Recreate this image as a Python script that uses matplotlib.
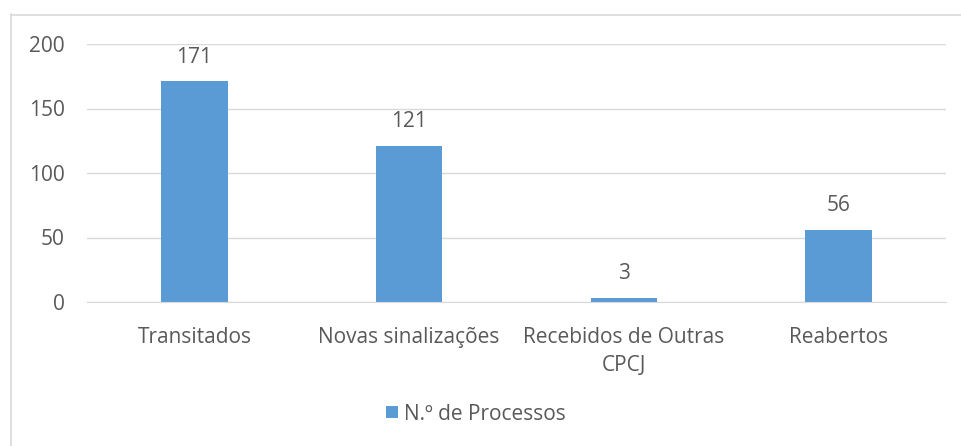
import matplotlib
matplotlib.use("Agg")
import matplotlib.pyplot as plt
from matplotlib.lines import Line2D
import numpy as np

categories = ["Transitados", "Novas sinalizações", "Recebidos de Outras\nCPCJ", "Reabertos"]
values = [171, 121, 3, 56]
series_name = "N.º de Processos"
yticks = [0, 50, 100, 150, 200]

BAR = "#5B9BD5"
TXT = "#595959"
GRID = "#D9D9D9"
FS = 15

plt.rcParams["font.family"] = ["Open Sans", "DejaVu Sans"]

W, H = 961, 446
fig = plt.figure(figsize=(W / 100, H / 100), dpi=100)
ax = fig.add_axes([87 / W, 1 - 302 / H, (946 - 87) / W, (302 - 44) / H])

x = np.arange(len(categories))
bars = ax.bar(x, values, width=0.31, color=BAR, label=series_name, zorder=3)
for xi, v in zip(x, values):
    ax.annotate(str(v), (xi, v), xytext=(0, 10), textcoords="offset points",
                ha="center", va="bottom", fontsize=FS, color=TXT)

ax.set_xlim(-0.5, len(categories) - 0.5)
ax.set_ylim(0, 200)
ax.set_yticks(yticks)
ax.set_xticks(x)
ax.set_xticklabels(categories, fontsize=FS, color=TXT, linespacing=1.45)
ax.tick_params(axis="y", labelsize=FS, labelcolor=TXT, length=0, pad=16)
ax.tick_params(axis="x", length=0, pad=18)
ax.grid(axis="y", color=GRID, linewidth=1, zorder=0)
for s in ["top", "right", "left"]:
    ax.spines[s].set_visible(False)
ax.spines["bottom"].set_color(GRID)
ax.spines["bottom"].set_zorder(4)

fig.legend(handles=[bars], labels=[series_name], loc="center", bbox_to_anchor=(476 / W, 1 - 414 / H),
           frameon=False, fontsize=FS, labelcolor=TXT, handlelength=0.55, handleheight=0.55,
           handletextpad=0.3)

# outer chart border (left and top visible)
fig.add_artist(Line2D([10.5 / W, 10.5 / W], [0, 1 - 14 / H], transform=fig.transFigure, color=GRID, lw=1.2))
fig.add_artist(Line2D([10.5 / W, 1], [1 - 14.5 / H, 1 - 14.5 / H], transform=fig.transFigure, color=GRID, lw=1.2))

fig.savefig("out.png", dpi=100)
